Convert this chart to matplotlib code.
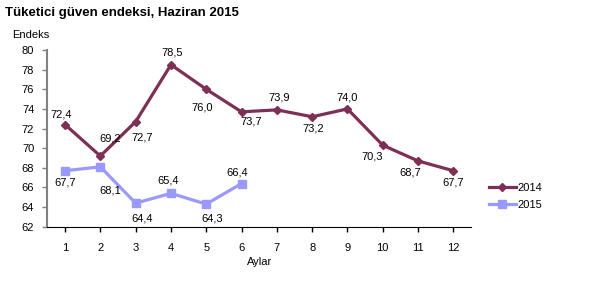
import matplotlib
matplotlib.use("Agg")
import matplotlib.pyplot as plt

plt.rcParams['font.family'] = ['Liberation Sans', 'DejaVu Sans']

months = list(range(1, 13))
y2014 = [72.4, 69.2, 72.7, 78.5, 76.0, 73.7, 73.9, 73.2, 74.0, 70.3, 68.7, 67.7]
y2015 = [67.7, 68.1, 64.4, 65.4, 64.3, 66.4]
yticks = list(range(62, 81, 2))

# label placement offsets (pixels, right / down)
off2014 = [(-4, -10), (10, -18), (7, 16), (1, -12), (-4, 18), (10, 10),
           (2, -12), (1, 12), (0, -11), (-11, 11), (-8, 12), (0, 12)]
off2015 = [(0, 12), (10, 24), (6, 15), (-3, -13), (6, 14), (-4, -11)]

c14 = '#7E2F55'
c15 = '#9999FF'
fs = 8

fig = plt.figure(figsize=(6.0, 2.95), dpi=100)
ax = fig.add_axes([0.079, 0.2315, 0.706, 0.599])

ax.plot(months, y2014, color=c14, lw=2.3, marker='D', ms=4.5, label='2014', zorder=3)
ax.plot(months[:len(y2015)], y2015, color=c15, lw=2.3, marker='s', ms=5.5, label='2015', zorder=3)

def fmt(v):
    return f"{v:.1f}".replace('.', ',')

for x, v, (dx, dy) in zip(months, y2014, off2014):
    ax.annotate(fmt(v), (x, v), xytext=(dx, -dy), textcoords='offset pixels',
                ha='center', va='center', fontsize=fs)
for x, v, (dx, dy) in zip(months, y2015, off2015):
    ax.annotate(fmt(v), (x, v), xytext=(dx, -dy), textcoords='offset pixels',
                ha='center', va='center', fontsize=fs)

ax.set_xlim(0.5, 12.5)
ax.set_ylim(62, 80)
ax.set_yticks(yticks)
ax.set_xticks(months)
ax.tick_params(axis='both', labelsize=fs, length=3.5, direction='out', width=1)
ax.tick_params(axis='x', pad=8)
ax.tick_params(axis='y', pad=6, colors='#808080', labelcolor='black')
ax.spines['top'].set_visible(False)
ax.spines['right'].set_visible(False)
ax.spines['left'].set_color('#808080')
ax.spines['left'].set_linewidth(1.5)
ax.spines['bottom'].set_color('black')
ax.set_xlabel('Aylar', fontsize=fs, labelpad=3)

fig.text(0.008, 0.957, 'Tüketici güven endeksi, Haziran 2015', fontsize=9.5, fontweight='bold', va='center')
fig.text(0.02, 0.88, 'Endeks', fontsize=fs, va='center')

fig.legend(loc='center left', bbox_to_anchor=(0.815, 0.334), frameon=False, fontsize=fs,
           handlelength=2.4, handletextpad=0.2, labelspacing=0.6, borderpad=0, borderaxespad=0)

fig.savefig('out.png', dpi=100)
